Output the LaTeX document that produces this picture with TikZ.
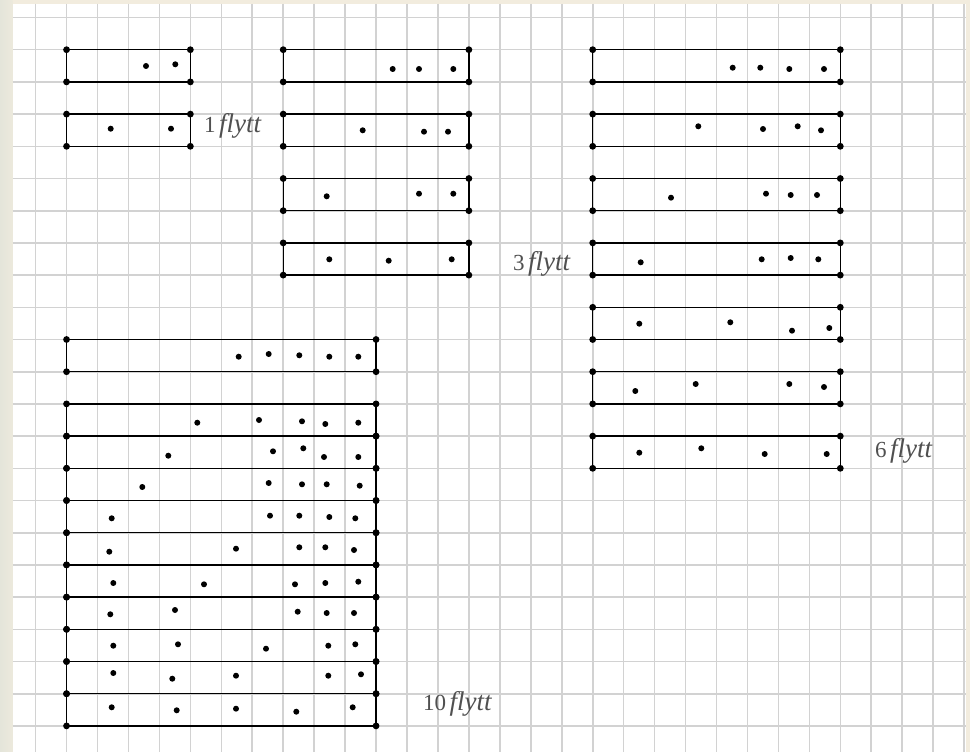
\documentclass[tikz,border=0pt]{standalone}
\usepackage{fontspec}
\setmainfont{Liberation Serif}
\definecolor{pagebg}{HTML}{F2ECDE}
\definecolor{leftbg}{HTML}{E4E5DA}
\definecolor{gridc}{HTML}{D2D2D2}
\definecolor{labelc}{HTML}{505050}
\tikzset{
  boxline/.style={black, line width=1.4pt},
  gridline/.style={gridc, line width=1.6pt},
  cornerdot/.style={black},
  flabel/.style={anchor=base west, text=labelc, inner sep=0pt}
}
\newcommand{\GX}[1]{35.6+30.95*(#1)}
\newcommand{\GY}[1]{17.5+32.2*(#1)}
\newcommand{\flyttbox}[4]{%
  \draw[boxline] ({\GX{#1}},{\GY{#3}}) rectangle ({\GX{#2}},{\GY{#4}});
  \fill[cornerdot] ({\GX{#1}},{\GY{#3}}) circle (3.4);
  \fill[cornerdot] ({\GX{#2}},{\GY{#3}}) circle (3.4);
  \fill[cornerdot] ({\GX{#1}},{\GY{#4}}) circle (3.4);
  \fill[cornerdot] ({\GX{#2}},{\GY{#4}}) circle (3.4);
}
\newcommand{\lbl}[1]{{\fontsize{23}{23}\selectfont #1}\hspace{3.5pt}{\fontsize{27}{27}\selectfont\itshape flytt}}
\begin{document}
\begin{tikzpicture}[x=1pt,y=-1pt]
\useasboundingbox (0,0) rectangle (970,752);
\fill[pagebg] (0,0) rectangle (970,752);
\shade[left color=leftbg, right color=pagebg!60!leftbg] (0,0) rectangle (12.7,752);
\fill[white] (12.7,4) rectangle (965.5,752);
% grid
\foreach \i in {0,...,30} {\draw[gridline] ({\GX{\i}},4) -- ({\GX{\i}},752);}
\foreach \j in {0,...,22} {\draw[gridline] (12.7,{\GY{\j}}) -- (965.5,{\GY{\j}});}
% 1 flytt
\flyttbox{1}{5}{1}{2}
\flyttbox{1}{5}{3}{4}
% 3 flytt
\foreach \r in {1,3,5,7} {\flyttbox{8}{14}{\r}{\r+1}}
% 6 flytt
\foreach \r in {1,3,5,7,9,11,13} {\flyttbox{18}{26}{\r}{\r+1}}
% 10 flytt
\flyttbox{1}{11}{10}{11}
\foreach \r in {12,...,21} {\flyttbox{1}{11}{\r}{\r+1}}
% dots
\foreach \p in {(146,66),(175.3,64.3),(110.7,128.7),(171,128.7),(392.7,69),(419,69),(453.3,69),(362.7,130.3),(424,131.7),(448,131.7),(326.7,196.3),(419,193.7),(453.3,193.7),(329.3,259.3),(388.7,260.7),(451.7,259.3),(732.7,67.7),(760.3,67.7),(789.3,69),(824,69),(698.3,126.3),(763,129),(797.7,126.3),(821,130.3),(671,197.7),(766,193.7),(790.7,195),(817,195),(640.7,262.3),(761.7,259.3),(790.7,258),(818.3,259.3),(639.3,323.7),(730.3,322.3),(792,330.7),(829.3,328),(635.3,391),(695.7,384),(789.3,384),(824,387),(639.3,452.7),(701.3,448.3),(764.7,454),(826.7,454),(238.7,356.7),(268.7,354),(299.3,355.3),(329.3,356.7),(358.3,356.7),(197.3,422.7),(259,420),(302,421.3),(325.3,424),(358.3,422.7),(168.3,455.7),(273,451.3),(303.3,448.3),(324,457),(358.3,457),(142.3,487),(268.7,483),(302,484.3),(326.7,484.3),(359.7,485.7),(111.7,518.3),(270,515.7),(299.3,515.7),(329.3,517),(355.3,518.3),(109.3,551.7),(236,548.7),(299.3,547.3),(325.3,547.3),(354,550),(113.3,583),(204,584.3),(295,584.3),(325.3,583),(358.3,581.7),(110.3,614.3),(175,610),(297.7,611.7),(326.7,613),(354,613),(113.3,645.7),(178,644.3),(266,648.7),(328.3,645.7),(355.3,644.3),(113.3,673),(172.3,678.7),(236,675.7),(328.3,675.7),(361,674.3),(111.7,707.3),(176.7,710.3),(236,708.7),(296.3,711.7),(352.7,707.3)}
  {\fill \p circle (3);}
% labels
\node[flabel] (l1) at (204,132) {\lbl{1}};
\node[flabel] (l3) at (513,270) {\lbl{3}};
\node[flabel] (l6) at (875,457.3) {\lbl{6}};
\node[flabel] (l10) at (423,710) {\lbl{10}};
\end{tikzpicture}
\end{document}
